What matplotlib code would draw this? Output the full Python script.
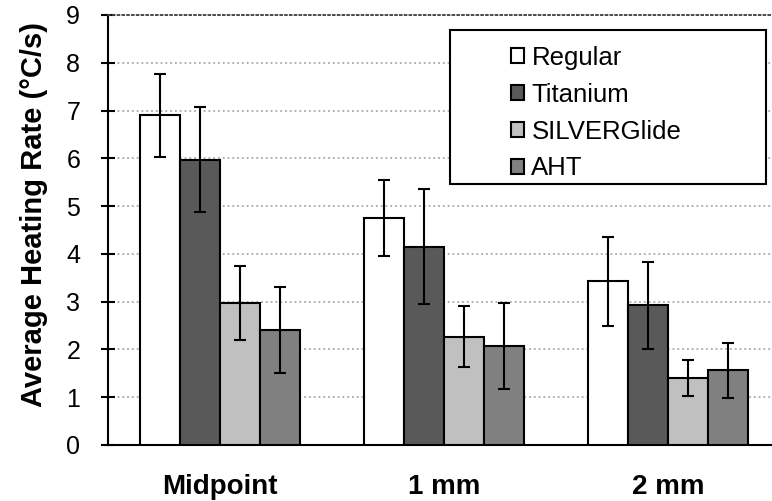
import matplotlib
matplotlib.use("Agg")
import matplotlib.pyplot as plt
import numpy as np
from matplotlib.patches import Rectangle

plt.rcParams['font.family'] = ['Liberation Sans', 'DejaVu Sans']

# data
positions = ['Midpoint', '1 mm', '2 mm']
series = ['Regular', 'Titanium', 'SILVERGlide', 'AHT']
regular = [6.9, 4.75, 3.43]
titanium = [5.97, 4.15, 2.92]
silverglide = [2.97, 2.27, 1.40]
aht = [2.40, 2.08, 1.56]
regular_err = [0.87, 0.80, 0.93]
titanium_err = [1.10, 1.20, 0.91]
silverglide_err = [0.78, 0.63, 0.38]
aht_err = [0.90, 0.90, 0.58]

values = [regular, titanium, silverglide, aht]
errors = [regular_err, titanium_err, silverglide_err, aht_err]
colors = ['white', '#595959', '#c0c0c0', '#808080']

fig = plt.figure(figsize=(7.72, 5.01), dpi=100)
ax = fig.add_axes([108 / 772, 56 / 501, 672 / 772, 430 / 501])

x = np.arange(len(positions))
w = 40 / 224
for i, (name, vals, errs, c) in enumerate(zip(series, values, errors, colors)):
    ax.bar(x + (i - 1.5) * w, vals, w, color=c, edgecolor='black', linewidth=1.5,
           label=name, zorder=3)
    ax.errorbar(x + (i - 1.5) * w, vals, yerr=errs, fmt='none', ecolor='black',
                elinewidth=1.5, capsize=4.5, capthick=1.5, zorder=4)

ax.set_xlim(-0.5, 2.5)
ax.set_ylim(0, 9)
ax.set_yticks(range(0, 10))
ax.set_xticks(x)
ax.set_xticklabels(positions, fontweight='bold', fontsize=20)
ax.tick_params(axis='x', length=0, pad=21)
ax.tick_params(axis='y', direction='inout', length=10, width=1.5, labelsize=18, pad=15)
ax.yaxis.grid(True, linestyle=':', color='#a8a8a8', linewidth=1.3, zorder=0)
ax.set_axisbelow(True)
ax.set_ylabel('Average Heating Rate (°C/s)', fontweight='bold', fontsize=21, labelpad=13)
ax.yaxis.label.set_y(0.535)

ax.spines['right'].set_visible(False)
ax.spines['top'].set_linestyle(':')
ax.spines['top'].set_color('#404040')
ax.spines['top'].set_linewidth(1.3)
ax.spines['left'].set_linewidth(1.5)
ax.spines['bottom'].set_linewidth(1.5)

fig.patches.append(Rectangle((450 / 772, 1 - 184 / 501), 316 / 772, 154 / 501,
                             transform=fig.transFigure, facecolor='white',
                             edgecolor='black', linewidth=1.5, zorder=5))
leg = fig.legend(loc='upper left', bbox_to_anchor=(498 / 772, 1 - 33 / 501),
                 frameon=False, fontsize=18.5, handlelength=0.5, handleheight=0.5,
                 handletextpad=0.3, labelspacing=0.5, borderpad=0)
leg.set_zorder(6)

fig.savefig('out.png', dpi=100)
